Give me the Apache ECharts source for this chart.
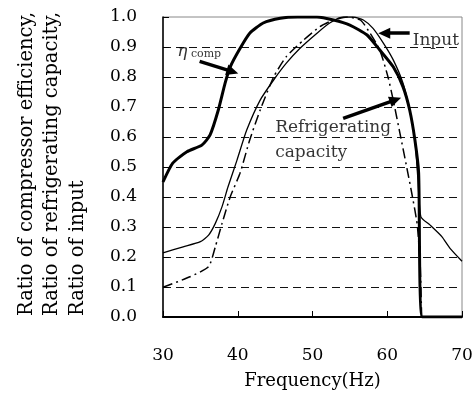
<!DOCTYPE html>
<html><head><meta charset="utf-8">
<script src="https://cdn.jsdelivr.net/npm/echarts@6/dist/echarts.min.js"></script>
<style>html,body{margin:0;padding:0;background:#fff}#c{width:476px;height:398px}</style>
</head><body><div id="c"></div>
<script>
// ---- data ----
const xTicks = [30, 40, 50, 60, 70];
const yTicks = [0.0, 0.1, 0.2, 0.3, 0.4, 0.5, 0.6, 0.7, 0.8, 0.9, 1.0];

const etaComp = [
  [30,0.45],[31.3,0.513],[33.2,0.551],[35.2,0.573],[36.3,0.607],[37.4,0.69],[38.3,0.779],
  [39.0,0.834],[40.3,0.895],[41.6,0.946],[43.4,0.98],[45.7,0.996],[48,1.0],[50.6,1.0],
  [52.8,0.99],[55,0.973],[57.3,0.94],[59,0.89],[60.8,0.834],[62.1,0.768],[63,0.69],
  [63.7,0.59],[64.2,0.48],[64.7,0.0],[70,0.0]
];
const inputRatio = [
  [30,0.214],[32.7,0.234],[35,0.251],[36.1,0.273],[37,0.312],[37.9,0.368],[38.7,0.434],
  [39.9,0.523],[41.2,0.623],[43,0.723],[44.8,0.79],[46.5,0.846],[48.3,0.895],[50.6,0.946],
  [52.3,0.98],[54.1,1.0],[55.4,1.0],[56.8,0.99],[58.1,0.962],[59.5,0.912],[60.8,0.857],
  [62.1,0.78],[63,0.69],[63.7,0.59],[64.1,0.46],[64.5,0.334],[65.7,0.307],[67.3,0.268],
  [68.4,0.229],[70,0.186]
];
const refrigCapacity = [
  [30,0.099],[33.6,0.134],[36.1,0.168],[37,0.234],[37.9,0.312],[39,0.401],[40.3,0.479],
  [41.6,0.59],[43,0.69],[44.8,0.80],[46.5,0.868],[48.8,0.923],[51,0.968],[52.8,0.99],
  [54.6,1.0],[56.4,0.99],[57.7,0.946],[59,0.89],[60.1,0.80],[60.8,0.723],[61.7,0.612],
  [62.6,0.50],[63.3,0.41],[64,0.31],[64.4,0.18],[64.6,0.0]
];
// annotation arrows [from, to] in data units
const arrows = [
  [[34.9,0.852],[39.3,0.818]],
  [[63.0,0.946],[59.6,0.946]],
  [[54.1,0.662],[61.1,0.724]]
];
// annotation text anchors
const labels = [
  {pos:[31.9,0.885], text:'{eta|η}{sub| comp}'},
  {pos:[63.4,0.922], text:'Input'},
  {pos:[45.0,0.632], text:'Refrigerating'},
  {pos:[45.0,0.547], text:'capacity'}
];
const yTitle = 'Ratio of compressor efficiency,\nRatio of refrigerating capacity,\nRatio of input';
const xTitle = 'Frequency(Hz)';

const FONT = 'DejaVu Serif';
const chart = echarts.init(document.getElementById('c'), null, {renderer:'canvas'});
chart.setOption({
  animation:false,
  backgroundColor:'#fff',
  grid:{left:163, right:14, top:17, bottom:81, show:true, borderColor:'#888', borderWidth:1, backgroundColor:'transparent'},
  xAxis:{
    type:'value', min:30, max:70, interval:10,
    name:xTitle, nameLocation:'middle', nameGap:55,
    nameTextStyle:{fontFamily:FONT, fontSize:18, color:'#000'},
    axisLine:{lineStyle:{color:'#000', width:2}},
    axisTick:{inside:true, length:6, lineStyle:{color:'#000'}},
    axisLabel:{fontFamily:FONT, fontSize:17, color:'#000', margin:30, formatter:v=>xTicks.includes(v)?String(v):''},
    splitLine:{show:false}
  },
  yAxis:{
    type:'value', min:0, max:1, interval:0.1,
    axisLine:{show:true, lineStyle:{color:'#000', width:1.5}},
    axisTick:{show:true, inside:true, length:6, lineStyle:{color:'#000'}},
    axisLabel:{fontFamily:FONT, fontSize:17, color:'#000', margin:26, formatter:v=>{
      const t = yTicks.find(k=>Math.abs(k-v)<1e-6); return t===undefined?'':t.toFixed(1);}},
    splitLine:{show:true, showMinLine:false, showMaxLine:false, lineStyle:{color:'#111', width:1, type:[8,5]}}
  },
  graphic:[{
    type:'text', x:52, y:316, rotation:Math.PI/2,
    style:{text:yTitle, fontFamily:FONT, fontSize:19.5, fill:'#000', align:'left', verticalAlign:'middle', lineHeight:25.5}
  }],
  series:[
    {type:'line', name:'input', data:inputRatio, showSymbol:false, smooth:0.2,
     lineStyle:{color:'#000', width:1.3}, z:3},
    {type:'line', name:'refrig', data:refrigCapacity, showSymbol:false, smooth:0.2,
     lineStyle:{color:'#000', width:1.5, type:[10,4,2,4]}, z:3},
    {type:'line', name:'eta', data:etaComp, showSymbol:false, smooth:0.2,
     lineStyle:{color:'#000', width:3}, z:4,
     markLine:{silent:true, symbol:['none','triangle'], symbolSize:[11,12], animation:false,
       label:{show:false},
       lineStyle:{color:'#000', width:3.5, type:'solid'},
       data:arrows.map(a=>[{coord:a[0]},{coord:a[1]}])}
    },
    {type:'scatter', name:'labels', symbolSize:0, silent:true, z:5,
     data:labels.map(l=>({value:l.pos, label:{
        show:true, position:'inside', align:'left', verticalAlign:'middle',
        formatter:l.text, fontFamily:FONT, fontSize:17, color:'#000',
        rich:{eta:{fontFamily:FONT, fontSize:17, fontStyle:'italic', color:'#000'},
              sub:{fontFamily:FONT, fontSize:11, color:'#000', verticalAlign:'bottom', padding:[6,0,0,0]}}
     }}))}
  ]
});
</script></body></html>
